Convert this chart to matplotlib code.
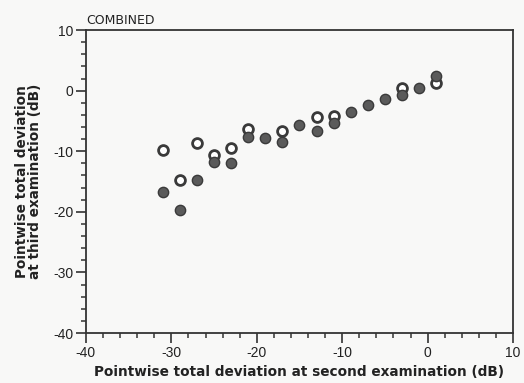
import matplotlib
matplotlib.use("Agg")
import matplotlib.pyplot as plt
from matplotlib.ticker import MultipleLocator

plt.rcParams['font.family'] = ['Liberation Sans', 'DejaVu Sans']
plt.rcParams['axes.unicode_minus'] = False

# open circles
open_x = [-31, -29, -27, -25, -23, -21, -17, -13, -11, -3, 1]
open_y = [-9.8, -14.7, -8.6, -10.7, -9.4, -6.4, -6.6, -4.3, -4.2, 0.5, 1.3]
# filled circles
filled_x = [-31, -29, -27, -25, -23, -21, -19, -17, -15, -13, -11, -9, -7, -5, -3, -1, 1]
filled_y = [-16.8, -19.7, -14.7, -11.7, -11.9, -7.6, -7.8, -8.5, -5.6, -6.6, -5.4,
            -3.5, -2.4, -1.3, -0.7, 0.4, 2.5]

x_ticks = [-40, -30, -20, -10, 0, 10]
y_ticks = [-40, -30, -20, -10, 0, 10]

fig = plt.figure(figsize=(5.24, 3.83), dpi=100)
fig.patch.set_facecolor('#f8f8f7')
ax = fig.add_axes([0.164, 0.1305, 0.815, 0.791])
ax.set_facecolor('#f8f8f7')

edge = '#3a3a3a'
ax.scatter(open_x, open_y, s=50, facecolor='white', edgecolor=edge, linewidth=2.0, zorder=3)
ax.scatter(filled_x, filled_y, s=55, facecolor='#5a5a5a', edgecolor=edge, linewidth=1.0, zorder=4)

ax.set_xlim(-40, 10)
ax.set_ylim(-40, 10)
ax.set_xticks(x_ticks)
ax.set_yticks(y_ticks)
ax.set_xticklabels([str(t) for t in x_ticks])
ax.set_yticklabels([str(t) for t in y_ticks])
ax.xaxis.set_minor_locator(MultipleLocator(2))
ax.yaxis.set_minor_locator(MultipleLocator(2))

for s in ax.spines.values():
    s.set_color('#333333')
    s.set_linewidth(1.3)

ax.tick_params(which='major', direction='out', length=7, width=1.2, color='#333333',
               labelsize=10, labelcolor='#222222', pad=2)
ax.tick_params(which='minor', direction='out', length=3.5, width=1.1, color='#333333')

ax.set_xlabel('Pointwise total deviation at second examination (dB)', fontsize=9.8,
              fontweight='bold', color='#222222', labelpad=4, family='DejaVu Sans')
ax.set_ylabel('Pointwise total deviation\nat third examination (dB)', fontsize=9.8,
              fontweight='bold', color='#222222', labelpad=8, linespacing=0.95,
              family='DejaVu Sans')
ax.text(0.0, 1.01, 'COMBINED', transform=ax.transAxes, fontsize=9, color='#222222',
        ha='left', va='bottom', family='DejaVu Sans')

fig.savefig('out.png', dpi=100, facecolor=fig.get_facecolor())
